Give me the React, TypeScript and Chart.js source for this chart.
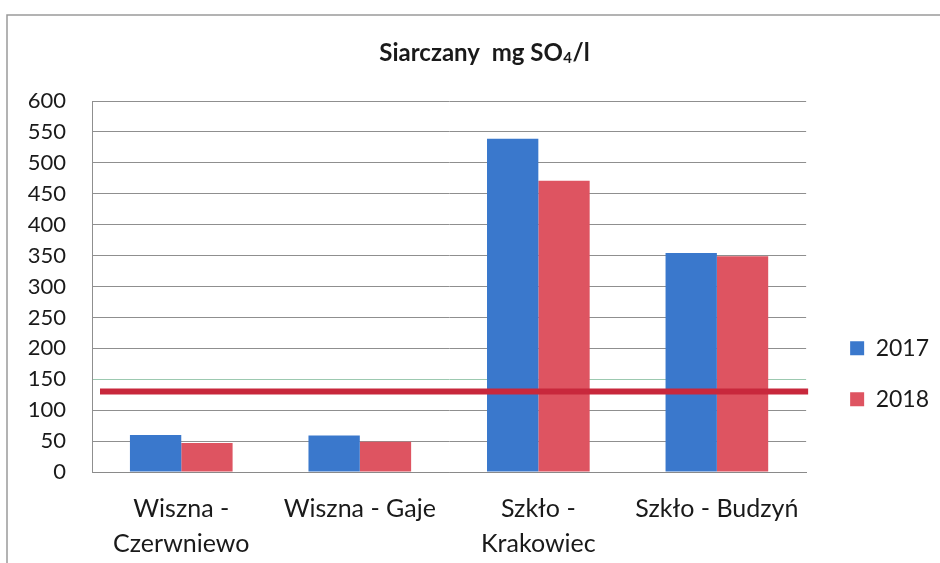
import React, { useEffect, useRef } from "react";
import { Chart, registerables } from "chart.js";

Chart.register(...registerables);

const categories: (string | string[])[] = [
  ["Wiszna -", "Czerwniewo"],
  "Wiszna - Gaje",
  ["Szkło -", "Krakowiec"],
  "Szkło - Budzyń",
];
const values2017 = [60, 59, 539, 354];
const values2018 = [47, 49, 471, 349];
const limitValue = 130;
const yTicks = [0, 50, 100, 150, 200, 250, 300, 350, 400, 450, 500, 550, 600];
const titleMain = "Siarczany  mg SO";
const titleSub = "4";
const titleEnd = "/l";

const FONT = "Lato, 'Liberation Sans', sans-serif";

const decorPlugin = {
  id: "decor",
  beforeDraw(chart: any) {
    const ctx = chart.ctx;
    ctx.save();
    ctx.strokeStyle = "#9a9a9a";
    ctx.lineWidth = 1.5;
    ctx.beginPath();
    ctx.moveTo(7, 563);
    ctx.lineTo(7, 15);
    ctx.lineTo(940, 15);
    ctx.stroke();
    // title with real subscript
    const big = `bold 24px ${FONT}`;
    const small = `bold 15px ${FONT}`;
    ctx.font = big;
    const w1 = ctx.measureText(titleMain).width;
    const w3 = ctx.measureText(titleEnd).width;
    ctx.font = small;
    const w2 = ctx.measureText(titleSub).width;
    const total = w1 + w2 + w3;
    let x = 484 - total / 2;
    const y = 53;
    ctx.fillStyle = "#1a1a1a";
    ctx.textBaseline = "middle";
    ctx.textAlign = "left";
    ctx.font = big;
    ctx.fillText(titleMain, x, y);
    x += w1;
    ctx.font = small;
    ctx.fillText(titleSub, x + 0.5, y + 5);
    x += w2 + 1;
    ctx.font = big;
    ctx.fillText(titleEnd, x, y);
    ctx.restore();
  },
  afterDatasetsDraw(chart: any) {
    const { ctx, chartArea, scales } = chart;
    const y = scales.y.getPixelForValue(limitValue);
    ctx.save();
    ctx.strokeStyle = "#c8283c";
    ctx.lineWidth = 6;
    ctx.beginPath();
    ctx.moveTo(chartArea.left + 8, y);
    ctx.lineTo(chartArea.right + 2, y);
    ctx.stroke();
    ctx.restore();
  },
};

export default function App() {
  const ref = useRef<HTMLCanvasElement | null>(null);
  useEffect(() => {
    if (!ref.current) return;
    const chart = new Chart(ref.current, {
      type: "bar",
      data: {
        labels: categories,
        datasets: [
          { label: "2017", data: values2017, backgroundColor: "#3a78cc", borderWidth: 0 },
          { label: "2018", data: values2018, backgroundColor: "#de5461", borderWidth: 0 },
        ],
      },
      options: {
        responsive: false,
        animation: false,
        layout: { padding: { left: 0, right: 1, top: 101, bottom: 0 } },
        datasets: { bar: { barPercentage: 1, categoryPercentage: 0.575 } },
        plugins: {
          title: { display: false },
          legend: {
            position: "right",
            title: { display: true, text: " ", padding: { top: 0, bottom: 56 }, font: { size: 23 } },
            labels: {
              boxWidth: 14,
              boxHeight: 14,
              padding: 28,
              color: "#1a1a1a",
              font: { family: FONT, size: 23 },
            },
          },
          tooltip: { enabled: false },
        },
        scales: {
          x: {
            grid: { display: false, drawTicks: false },
            border: { display: true, color: "#8a8a8a", width: 1 },
            ticks: {
              color: "#1a1a1a",
              padding: 19,
              maxRotation: 0,
              autoSkip: false,
              font: { family: FONT, size: 25, lineHeight: 1.4 },
            },
            afterFit: (s: any) => { s.height = 91; },
          },
          y: {
            min: 0,
            max: 600,
            afterBuildTicks: (s: any) => { s.ticks = yTicks.map((v) => ({ value: v })); },
            grid: {
              drawTicks: false,
              color: (c: any) => (c.tick && c.tick.value === 150 ? "#9cc9b0" : "#8f8f8f"),
              lineWidth: 1,
            },
            border: { display: true, color: "#8f8f8f", width: 1 },
            ticks: {
              color: "#1a1a1a",
              padding: 26,
              font: { family: FONT, size: 22 },
            },
            afterFit: (s: any) => { s.width = 92; },
          },
          gap: {
            type: "linear",
            position: "right",
            display: true,
            grid: { display: false, drawTicks: false },
            border: { display: false },
            ticks: { display: false },
            afterFit: (s: any) => { s.width = 16; },
          },
        },
      },
      plugins: [decorPlugin],
    });
    return () => chart.destroy();
  }, []);
  return (
    <div style={{ position: "fixed", left: 0, top: 0, width: 940, height: 563, background: "#fff" }}>
      <canvas ref={ref} width={940} height={563} />
    </div>
  );
}
